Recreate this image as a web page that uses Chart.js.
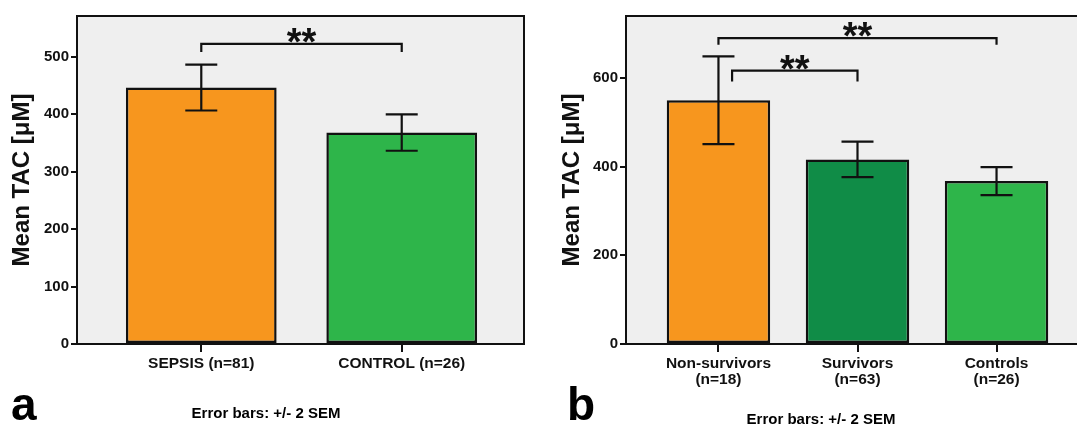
<!DOCTYPE html>
<html><head><meta charset="utf-8">
<script src="https://cdn.jsdelivr.net/npm/chart.js@4/dist/chart.umd.min.js"></script>
<style>
html,body{margin:0;padding:0;background:#fff;overflow:hidden;width:1077px;height:430px;}
#wa{position:absolute;left:0;top:0;width:540px;height:430px;}
#wb{position:absolute;left:540px;top:0;width:560px;height:430px;}
</style></head><body>
<div id="wa"><canvas id="ca" width="540" height="430"></canvas></div>
<div id="wb"><canvas id="cb" width="560" height="430"></canvas></div>
<script>
// ---- Panel a data ----
const catsA = ['SEPSIS (n=81)', 'CONTROL (n=26)'];
const meansA = [446.5, 368];
const errA = [40, 31.6];
const colorsA = ['#F7961E', '#2EB54A'];
const yTicksA = [0, 100, 200, 300, 400, 500];
const yMaxA = 571;
const brFromA = [0];
const brToA = [1];
const brYA = [522.6];
const brEndA = [510.4];

// ---- Panel b data ----
const catsB = [['Non-survivors', '(n=18)'], ['Survivors', '(n=63)'], ['Controls', '(n=26)']];
const meansB = [550, 416.5, 367.5];
const errB = [99, 40, 31.6];
const colorsB = ['#F7961E', '#108C47', '#2EB54A'];
const yTicksB = [0, 200, 400, 600];
const yMaxB = 740;
const brFromB = [0, 0.098];
const brToB = [2, 1];
const brYB = [690, 616.7];
const brEndB = [677.7, 594.8];

const FONT = "'Liberation Sans', Arial, sans-serif";

function makeChart(canvas, o) {
  const deco = {
    id: 'deco',
    beforeDraw(chart) {
      const {ctx, chartArea: a} = chart;
      ctx.save();
      ctx.fillStyle = '#EFEFEF';
      ctx.fillRect(a.left, a.top, a.right - a.left, a.bottom - a.top);
      ctx.restore();
    },
    afterDatasetsDraw(chart) {
      const {ctx} = chart;
      const xs = chart.scales.x, ys = chart.scales.y;
      ctx.save();
      ctx.strokeStyle = '#111';
      ctx.lineWidth = 2.2;
      o.means.forEach((m, i) => {
        const x = xs.getPixelForValue(i);
        const t = ys.getPixelForValue(m + o.errs[i]);
        const b = ys.getPixelForValue(m - o.errs[i]);
        ctx.beginPath();
        ctx.moveTo(x, t); ctx.lineTo(x, b);
        ctx.moveTo(x - 16, t); ctx.lineTo(x + 16, t);
        ctx.moveTo(x - 16, b); ctx.lineTo(x + 16, b);
        ctx.stroke();
      });
      ctx.lineCap = 'square';
      o.brFrom.forEach((f, i) => {
        const x1 = xs.getPixelForValue(f), x2 = xs.getPixelForValue(o.brTo[i]);
        const y = ys.getPixelForValue(o.brY[i]), ye = ys.getPixelForValue(o.brEnd[i]);
        ctx.beginPath();
        ctx.moveTo(x1, ye); ctx.lineTo(x1, y); ctx.lineTo(x2, y); ctx.lineTo(x2, ye);
        ctx.stroke();
        ctx.fillStyle = '#111';
        ctx.font = 'bold 38px ' + FONT;
        ctx.textAlign = 'center';
        ctx.textBaseline = 'alphabetic';
        ctx.fillText('**', (x1 + x2) / 2, y + 11);
      });
      ctx.restore();
    },
    afterDraw(chart) {
      const {ctx, chartArea: a} = chart;
      ctx.save();
      ctx.strokeStyle = '#111';
      ctx.lineWidth = 2;
      ctx.beginPath();
      ctx.moveTo(a.left - 1, a.top); ctx.lineTo(a.right, a.top); ctx.lineTo(a.right, a.bottom);
      ctx.stroke();
      ctx.fillStyle = '#000';
      ctx.font = 'bold 46px ' + FONT;
      ctx.textAlign = 'left';
      ctx.textBaseline = 'alphabetic';
      ctx.fillText(o.letter, o.letterX, 420);
      ctx.font = 'bold 15px ' + FONT;
      ctx.textAlign = 'center';
      ctx.textBaseline = 'middle';
      ctx.fillText('Error bars: +/- 2 SEM', o.noteX, o.noteY);
      ctx.restore();
    }
  };

  return new Chart(canvas, {
    type: 'bar',
    data: {
      datasets: [{
        data: o.means.map((m, i) => ({x: i, y: m})),
        backgroundColor: o.colors,
        borderColor: '#111',
        borderWidth: 2.5,
        borderSkipped: false,
        barPercentage: o.barPct,
        categoryPercentage: 1
      }]
    },
    options: {
      responsive: false,
      animation: false,
      layout: {padding: {left: 0, top: 16, right: o.padRight, bottom: 0}},
      plugins: {legend: {display: false}, tooltip: {enabled: false}},
      scales: {
        x: {
          type: 'linear',
          offset: false,
          min: o.xMin, max: o.xMax,
          afterBuildTicks: ax => { ax.ticks = o.cats.map((c, i) => ({value: i})); },
          afterFit: ax => { ax.height = 86; },
          ticks: {
            autoSkip: false, maxRotation: 0, padding: 4,
            color: '#111',
            font: {family: FONT, weight: 'bold', size: 15.5, lineHeight: 1.0},
            callback: v => o.cats[Math.round(v)]
          },
          grid: {display: true, offset: false, drawOnChartArea: false, drawTicks: true, tickLength: 8, color: '#111', lineWidth: 2},
          border: {display: true, color: '#111', width: 2}
        },
        y: {
          min: 0, max: o.yMax,
          afterBuildTicks: ax => { ax.ticks = o.yTicks.map(v => ({value: v})); },
          afterFit: ax => { ax.width = o.yAxisW; },
          ticks: {
            padding: 2, color: '#111',
            font: {family: FONT, weight: 'bold', size: 15}
          },
          grid: {display: true, drawOnChartArea: false, drawTicks: true, tickLength: 6, color: '#111', lineWidth: 2},
          border: {display: true, color: '#111', width: 2},
          title: {
            display: true, text: 'Mean TAC [\u03BCM]', color: '#111',
            font: {family: FONT, weight: 'bold', size: 24},
            padding: {top: o.titlePad, bottom: 0}
          }
        }
      }
    },
    plugins: [deco]
  });
}

makeChart(document.getElementById('ca'), {
  cats: catsA, means: meansA, errs: errA, colors: colorsA, yTicks: yTicksA, yMax: yMaxA,
  brFrom: brFromA, brTo: brToA, brY: brYA, brEnd: brEndA,
  xMin: -0.62, xMax: 1.61, barPct: 0.752, yAxisW: 77, padRight: 16, titlePad: 8,
  letter: 'a', letterX: 11, noteX: 266, noteY: 414
});
makeChart(document.getElementById('cb'), {
  cats: catsB, means: meansB, errs: errB, colors: colorsB, yTicks: yTicksB, yMax: yMaxB,
  brFrom: brFromB, brTo: brToB, brY: brYB, brEnd: brEndB,
  xMin: -0.665, xMax: 2.665, barPct: 0.744, yAxisW: 86, padRight: 11, titlePad: 18,
  letter: 'b', letterX: 27, noteX: 281, noteY: 420
});
</script>
</body></html>
